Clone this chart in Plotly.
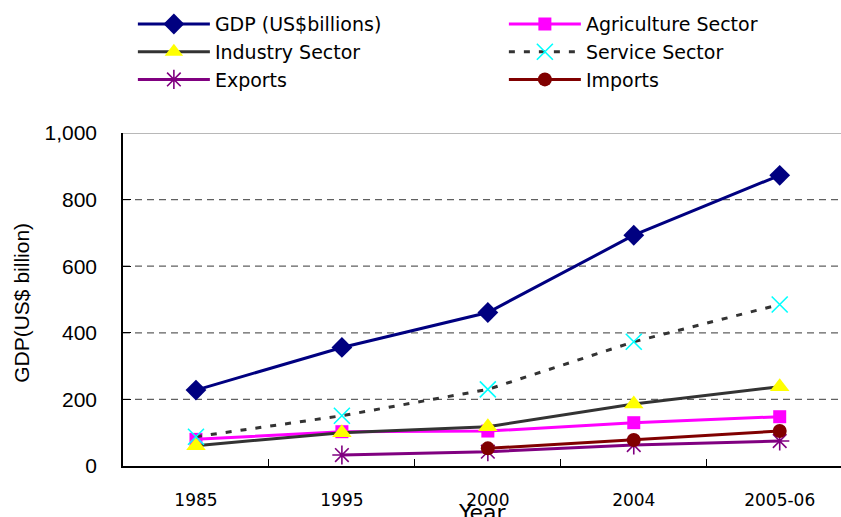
import plotly.graph_objects as go

# Categories and series (US$ billions)
years = ["1985", "1995", "2000", "2004", "2005-06"]
gdp = [228, 356, 461, 693, 873]
agriculture = [80, 103, 105, 130, 148]
industry = [61, 100, 118, 186, 238]
services = [88, 151, 230, 373, 485]
exports = [None, 33, 43, 63, 75]
imports = [None, None, 53, 78, 105]

y_ticks = [0, 200, 400, 600, 800, 1000]
y_tick_text = ["0", "200", "400", "600", "800", "1,000"]

# name, values, line colour, dash, marker symbol, marker size, marker colour, legend column
series = [
    ("GDP (US$billions)", gdp, "#000080", "solid", "diamond", 16, None, "legend"),
    ("Agriculture Sector", agriculture, "#FF00FF", "solid", "square", 13, None, "legend2"),
    ("Industry Sector", industry, "#333333", "solid", "triangle-up", 17, "#FFFF00", "legend"),
    ("Service Sector", services, "#333333", "6px,9px", "x-thin", 16, "#00FFFF", "legend2"),
    ("Exports", exports, "#800080", "solid", "asterisk", 16, "#800080", "legend"),
    ("Imports", imports, "#800000", "solid", "circle", 14, None, "legend2"),
]

fig = go.Figure()
for name, vals, color, dash, symbol, size, mcolor, leg in series:
    marker = dict(symbol=symbol, size=size, color=mcolor or color)
    if symbol in ("x-thin", "asterisk"):
        marker["line"] = dict(color=mcolor, width=1.6)
    else:
        marker["line"] = dict(width=0)
    fig.add_trace(go.Scatter(
        x=years, y=vals, name=name, mode="lines+markers", legend=leg,
        line=dict(color=color, width=3, dash=dash),
        marker=marker, connectgaps=False,
    ))

# horizontal reference lines: dashed inside, solid grey at the top
shapes = []
for v in y_ticks[1:-1]:
    shapes.append(dict(type="line", xref="paper", yref="y", x0=0, x1=1, y0=v, y1=v,
                       line=dict(color="#606060", width=1.3, dash="7px,5px"), layer="below"))
shapes.append(dict(type="line", xref="paper", yref="y", x0=0, x1=1, y0=y_ticks[-1], y1=y_ticks[-1],
                   line=dict(color="#A0A0A0", width=1.5), layer="below"))

legend_style = dict(
    orientation="v", yanchor="top", xanchor="left",
    xref="container", yref="container", y=0.99,
    itemwidth=72, tracegroupgap=0,
    font=dict(family="DejaVu Sans", size=19, color="black"),
    bgcolor="rgba(0,0,0,0)",
)

fig.update_layout(
    width=841, height=517,
    margin=dict(l=123, r=0, t=133, b=51, autoexpand=False),
    paper_bgcolor="white", plot_bgcolor="white",
    showlegend=True,
    legend=dict(x=0.158, **legend_style),
    legend2=dict(x=0.158 + 371 / 841, **legend_style),
    shapes=shapes,
    annotations=[
        dict(text="GDP(US$ billion)", textangle=-90, showarrow=False,
             xref="paper", yref="paper", x=-0.1407, y=0.49, xanchor="center", yanchor="middle",
             font=dict(family="Liberation Sans", size=21, color="black")),
        dict(text="Year", showarrow=False,
             xref="paper", yref="paper", x=0.5, y=-0.14, xanchor="center", yanchor="middle",
             font=dict(family="DejaVu Sans", size=22, color="black")),
    ],
    xaxis=dict(
        type="category", range=[-0.5, 4.42],
        showline=True, linecolor="black", linewidth=1.5,
        ticks="inside", ticklen=7, tickcolor="black", tickson="boundaries",
        showgrid=False, zeroline=False,
        tickfont=dict(family="DejaVu Sans", size=17, color="black"),
        ticklabelstandoff=18,
        automargin=False,
    ),
    yaxis=dict(
        range=[0, 1000], tickvals=y_ticks, ticktext=y_tick_text,
        showline=True, linecolor="black", linewidth=1.5,
        ticks="inside", ticklen=8, tickcolor="black",
        showgrid=False, zeroline=False,
        tickfont=dict(family="Liberation Sans", size=21, color="black"),
        ticklabelstandoff=20,
        automargin=False,
    ),
)

fig.write_html("out.html")
